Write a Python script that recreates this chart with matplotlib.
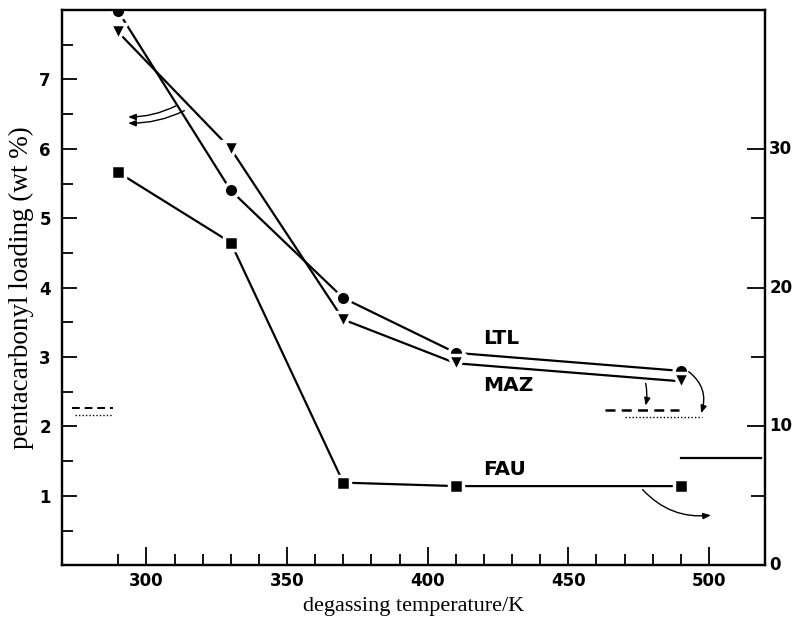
import numpy as np
import matplotlib.pyplot as plt
from matplotlib.ticker import MultipleLocator, FixedLocator

# degassing temperature (K) and pentacarbonyl loading (wt %)
temps = [290, 330, 370, 410, 490]
ltl = [7.98, 5.40, 3.85, 3.06, 2.80]
maz = [7.68, 6.00, 3.54, 2.91, 2.65]
fau = [5.66, 4.65, 1.19, 1.14, 1.14]

# reference levels (left: wt %, right: second scale)
left_dashed = 2.27
left_dotted = 2.17
right_dashed = 2.23
right_dotted = 2.13
right_solid = 1.55

tick_font = dict(family="DejaVu Sans", weight="bold", size=12)
label_font = dict(family="Liberation Serif", size=16)

fig = plt.figure(figsize=(8, 6.28), dpi=100)
ax = fig.add_axes([0.0775, 0.100, 0.879, 0.884])

for series, marker, ms in [(ltl, "o", 10.5), (maz, "v", 12), (fau, "s", 10.5)]:
    ax.plot(temps, series, color="black", lw=1.6, zorder=2)
    ax.plot(temps, series, linestyle="none", marker=marker, ms=ms,
            mfc="black", mec="white", mew=2.5, zorder=3)

# short reference lines near both axes
ax.plot([273.5, 288], [left_dashed] * 2, color="black", lw=1.4, ls=(0, (4, 2.5)))
ax.plot([274.5, 288], [left_dotted] * 2, color="black", lw=1.0, ls=(0, (1, 1.5)))
ax.plot([463, 489.5], [right_dashed] * 2, color="black", lw=1.8, ls=(0, (4, 2.5)))
ax.plot([470, 497.5], [right_dotted] * 2, color="black", lw=1.0, ls=(0, (1, 1.5)))
ax.plot([490, 518.5], [right_solid] * 2, color="black", lw=1.6)

arrow = dict(arrowstyle="-|>,head_length=0.45,head_width=0.18", color="black",
             lw=1.0, shrinkA=0, shrinkB=0)
ax.annotate("", xy=(293.5, 6.46), xytext=(310.5, 6.62),
            arrowprops=dict(arrow, connectionstyle="arc3,rad=-0.12"))
ax.annotate("", xy=(293.5, 6.37), xytext=(313.5, 6.55),
            arrowprops=dict(arrow, connectionstyle="arc3,rad=-0.12"))
ax.annotate("", xy=(497.2, 2.19), xytext=(492.8, 2.79),
            arrowprops=dict(arrow, connectionstyle="arc3,rad=-0.35"))
ax.annotate("", xy=(477.5, 2.30), xytext=(477.5, 2.62),
            arrowprops=dict(arrow, connectionstyle="arc3,rad=-0.1"))
ax.annotate("", xy=(500.7, 0.72), xytext=(476.4, 1.09),
            arrowprops=dict(arrow, connectionstyle="arc3,rad=0.25"))

series_font = dict(tick_font, size=14.5)
ax.text(419.7, 3.19, "LTL", fontdict=series_font)
ax.text(419.7, 2.51, "MAZ", fontdict=series_font)
ax.text(419.7, 1.30, "FAU", fontdict=series_font)

ax.set_xlim(270, 520)
ax.set_ylim(0, 8)

ax.xaxis.set_major_locator(FixedLocator([300, 350, 400, 450, 500]))
ax.xaxis.set_minor_locator(FixedLocator([t for t in range(290, 500, 10) if t % 50]))
ax.yaxis.set_major_locator(FixedLocator([1, 2, 3, 4, 5, 6, 7]))
ax.yaxis.set_minor_locator(FixedLocator([0.5, 1.5, 2.5, 3.5, 4.5, 5.5, 6.5, 7.5]))
ax.tick_params(axis="both", which="both", direction="in", width=1.3, color="black")
ax.tick_params(axis="x", which="major", length=13, pad=5)
ax.tick_params(axis="x", which="minor", length=8)
ax.tick_params(axis="y", which="major", length=11, pad=8)
ax.tick_params(axis="y", which="minor", length=8)
ax.tick_params(top=False, right=False)
for lab in ax.get_xticklabels() + ax.get_yticklabels():
    lab.set_fontproperties(tick_font)
for sp in ax.spines.values():
    sp.set_linewidth(1.6)

# second scale on the right (5x the left one)
ax2 = ax.twinx()
ax2.set_ylim(0, 40)
ax2.yaxis.set_major_locator(MultipleLocator(10))
ax2.yaxis.set_minor_locator(FixedLocator([5, 15, 25]))
ax2.tick_params(axis="y", which="both", direction="in", width=1.3)
ax2.tick_params(axis="y", which="major", length=13, pad=3)
ax2.tick_params(axis="y", which="minor", length=10)
ax2.set_yticks([0, 10, 20, 30])
ax2.set_yticklabels(["0", "10", "20", "30"])
for lab in ax2.get_yticklabels():
    lab.set_fontproperties(tick_font)
    lab.set_verticalalignment("center")
for sp in ax2.spines.values():
    sp.set_linewidth(1.6)

ax.set_xlabel("degassing temperature/K", fontdict=label_font, labelpad=5)
ax.set_ylabel("pentacarbonyl loading (wt %)", fontdict=dict(label_font, size=19.5), labelpad=4)

fig.savefig("out.png", dpi=100)
